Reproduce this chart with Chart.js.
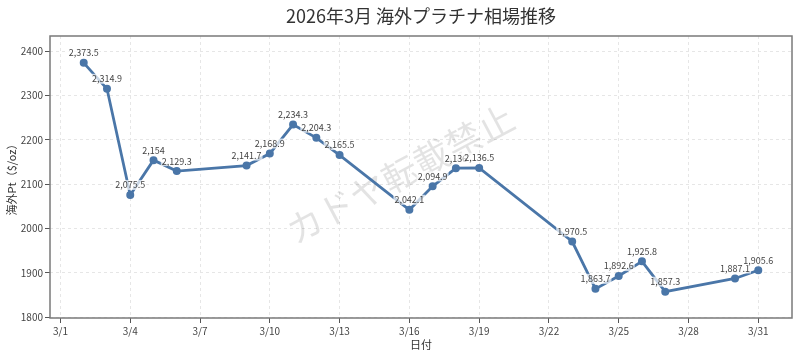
<!DOCTYPE html>
<html>
<head>
<meta charset="utf-8">
<script src="https://cdn.jsdelivr.net/npm/chart.js@4"></script>
<style>
  html, body { margin: 0; padding: 0; background: #fff; }
  #wrap { width: 800px; height: 359px; position: relative; }
</style>
</head>
<body>
<div id="wrap"><canvas id="c"></canvas></div>
<script>
const titleText = '2026年3月 海外プラチナ相場推移';
const xTitle = '日付';
const yTitle = '海外Pt（$/oz）';
const watermark = 'カドヤ転載禁止';
const days = [2, 3, 4, 5, 6, 9, 10, 11, 12, 13, 16, 17, 18, 19, 23, 24, 25, 26, 27, 30, 31];
const prices = [2373.5, 2314.9, 2075.5, 2154, 2129.3, 2141.7, 2168.9, 2234.3, 2204.3, 2165.5, 2042.1, 2094.9, 2136, 2136.5, 1970.5, 1863.7, 1892.6, 1925.8, 1857.3, 1887.1, 1905.6];
const xTicks = [1, 4, 7, 10, 13, 16, 19, 22, 25, 28, 31];
const yTicks = [1800, 1900, 2000, 2100, 2200, 2300, 2400];

const FONT = '"Noto Sans CJK JP", "Noto Sans", sans-serif';
const lineColor = '#4a76a8';

const points = days.map((d, i) => ({ x: d, y: prices[i] }));

const extras = {
  id: 'extras',
  beforeDatasetsDraw(chart) {
    const { ctx } = chart;
    ctx.save();
    ctx.translate(400, 174);
    ctx.rotate(-28 * Math.PI / 180);
    ctx.font = '36px ' + FONT;
    ctx.fillStyle = 'rgba(0,0,0,0.11)';
    ctx.textAlign = 'center';
    ctx.textBaseline = 'middle';
    ctx.fillText(watermark, 0, 0);
    ctx.restore();
  },
  afterDatasetsDraw(chart) {
    const { ctx } = chart;
    const meta = chart.getDatasetMeta(0);
    ctx.save();
    ctx.font = '9px ' + FONT;
    ctx.textAlign = 'center';
    ctx.textBaseline = 'middle';
    meta.data.forEach((el, i) => {
      const txt = prices[i].toLocaleString('en-US', { maximumFractionDigits: 1 });
      const w = ctx.measureText(txt).width;
      const x = el.x, y = el.y - 10;
      ctx.fillStyle = 'rgba(255,255,255,0.7)';
      ctx.fillRect(x - w / 2 - 1, y - 5, w + 2, 10);
      ctx.fillStyle = '#444';
      ctx.fillText(txt, x, y);
    });
    ctx.restore();
  },
  afterDraw(chart) {
    const { ctx, chartArea: a } = chart;
    ctx.save();
    ctx.strokeStyle = '#7a7a7a';
    ctx.lineWidth = 1.5;
    ctx.strokeRect(a.left, a.top, a.right - a.left, a.bottom - a.top);
    ctx.fillStyle = '#333';
    ctx.textAlign = 'center';
    ctx.textBaseline = 'middle';
    ctx.font = '18px ' + FONT;
    ctx.fillText(titleText, (a.left + a.right) / 2, 16);
    ctx.font = '11px ' + FONT;
    ctx.fillText(xTitle, (a.left + a.right) / 2, 345);
    ctx.translate(12, (a.top + a.bottom) / 2);
    ctx.rotate(-Math.PI / 2);
    ctx.fillText(yTitle, 0, 0);
    ctx.restore();
  }
};

new Chart(document.getElementById('c'), {
  type: 'line',
  data: {
    datasets: [{
      data: points,
      borderColor: lineColor,
      backgroundColor: lineColor,
      borderWidth: 2.8,
      pointRadius: 2.6,
      pointHoverRadius: 2.6,
      tension: 0,
      fill: false
    }]
  },
  options: {
    responsive: true,
    maintainAspectRatio: false,
    animation: false,
    events: [],
    layout: { padding: { left: 0, right: 8, top: 36, bottom: 0 } },
    plugins: { legend: { display: false }, title: { display: false }, tooltip: { enabled: false } },
    scales: {
      x: {
        type: 'linear',
        min: 0.55,
        max: 32.45,
        afterBuildTicks: s => { s.ticks = xTicks.map(v => ({ value: v })); },
        afterFit: s => { s.height = 41; },
        ticks: {
          callback: v => '3/' + v,
          color: '#444',
          font: { size: 10, family: FONT },
          padding: 2,
          maxRotation: 0,
          autoSkip: false
        },
        grid: { color: '#e6e6e6', lineWidth: 1, tickLength: 5, tickColor: '#555', tickWidth: 1, tickBorderDash: [] },
        border: { display: false, dash: [3, 3] }
      },
      y: {
        min: 1798,
        max: 2434,
        afterBuildTicks: s => { s.ticks = yTicks.map(v => ({ value: v })); },
        afterFit: s => { s.width = 50; },
        ticks: {
          callback: v => String(v),
          color: '#444',
          font: { size: 10, family: FONT },
          padding: 2,
          autoSkip: false
        },
        grid: { color: '#e6e6e6', lineWidth: 1, tickLength: 5, tickColor: '#555', tickWidth: 1, tickBorderDash: [] },
        border: { display: false, dash: [3, 3] }
      }
    }
  },
  plugins: [extras]
});
</script>
</body>
</html>
